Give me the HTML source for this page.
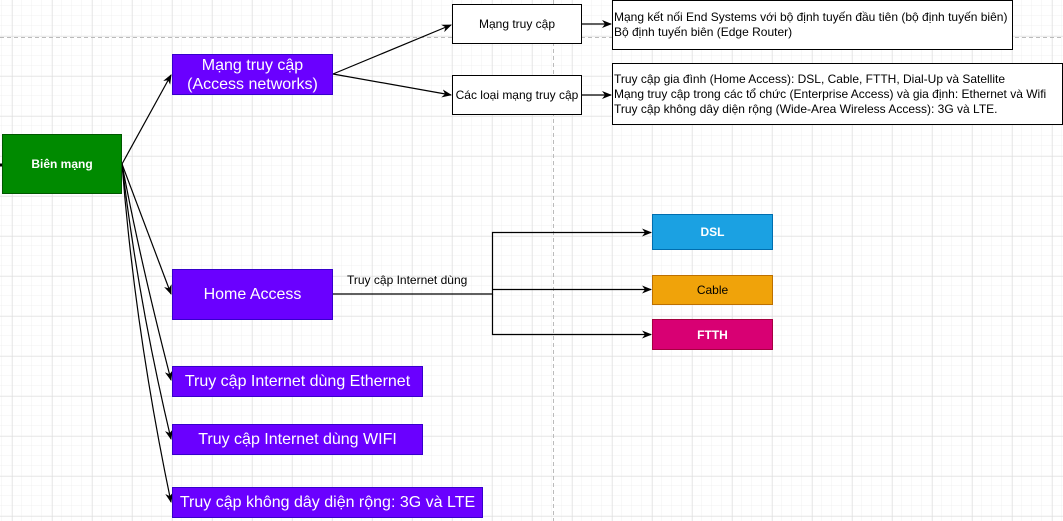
<!DOCTYPE html>
<html><head><meta charset="utf-8"><style>
body{margin:0;width:1063px;height:521px;overflow:hidden;background:#fff;position:relative;font-family:"Liberation Sans",Arial,sans-serif}
.b{position:absolute;box-sizing:border-box;display:flex;align-items:center;justify-content:center;text-align:center}
.p{background:#6a00ff;border:1px solid #3700cc;color:#fff;font-size:16px;line-height:19px}
.w{background:#fff;border:1px solid #000;color:#000;font-size:12px}
.t{position:absolute;box-sizing:border-box;border:1px solid #000;background:#fff;font-size:12px;line-height:15px;padding-left:1px;display:flex;flex-direction:column;justify-content:center}
.c{color:#fff;font-size:12px;font-weight:bold}
</style></head><body>
<svg width="1063" height="521" style="position:absolute;left:0;top:0">
<defs>
<pattern id="mn" width="10" height="10" patternUnits="userSpaceOnUse" x="2" y="6"><path d="M10 0V10M0 10H10" stroke="#f0f0f0" stroke-width="1" fill="none"/></pattern>
<pattern id="mj" width="40" height="40" patternUnits="userSpaceOnUse" x="12.5" y="36.5"><path d="M0 0V40M0 0H40" stroke="#dadada" stroke-width="1" fill="none"/></pattern>
<marker id="a" markerWidth="10" markerHeight="8" refX="9" refY="4" orient="auto" markerUnits="userSpaceOnUse"><path d="M0 0L10 4L0 8L3 4Z" fill="#000"/></marker>
</defs>
<rect width="1063" height="521" fill="url(#mn)"/>
<rect width="1063" height="521" fill="url(#mj)"/>
<line x1="0" y1="37.5" x2="1063" y2="37.5" stroke="#bbb" stroke-dasharray="4,3"/>
<line x1="553.5" y1="0" x2="553.5" y2="521" stroke="#bbb" stroke-dasharray="4,3"/>
<g stroke="#000" stroke-width="1.2" fill="none" marker-end="url(#a)">
<line x1="122" y1="164" x2="171" y2="75"/>
<line x1="122" y1="164" x2="171" y2="294"/>
<path d="M122 164 Q140 260 171 380"/>
<path d="M122 164 Q138 300 171 439"/>
<path d="M122 164 Q135 330 171 502"/>
<line x1="333" y1="74" x2="451" y2="25"/>
<line x1="333" y1="74" x2="451" y2="95"/>
<line x1="582" y1="24" x2="611" y2="24"/>
<line x1="582" y1="95" x2="611" y2="95"/>
<path d="M333 294H492.5V232.5H651"/>
<path d="M492.5 289.5H651"/>
<path d="M492.5 294V334.5H651"/>
</g>
<line x1="0" y1="165" x2="2" y2="165" stroke="#000" stroke-width="3"/>
</svg>
<div class="b c" style="left:2px;top:134px;width:120px;height:60px;background:#008a00;border:1px solid #005700">Biên mạng</div>
<div class="b p" style="left:172px;top:54px;width:161px;height:41px">Mạng truy cập<br>(Access networks)</div>
<div class="b w" style="left:452px;top:4px;width:130px;height:40px">Mạng truy cập</div>
<div class="b w" style="left:452px;top:75px;width:130px;height:40px">Các loại mạng truy cập</div>
<div class="t" style="left:612px;top:0;width:401px;height:50px">Mạng kết nối End Systems với bộ định tuyến đầu tiên (bộ định tuyến biên)<br>Bộ định tuyến biên (Edge Router)</div>
<div class="t" style="left:612px;top:63px;width:451px;height:62px">Truy cập gia đình (Home Access): DSL, Cable, FTTH, Dial-Up và Satellite<br>Mạng truy cập trong các tổ chức (Enterprise Access) và gia định: Ethernet và Wifi<br>Truy cập không dây diện rộng (Wide-Area Wireless Access): 3G và LTE.</div>
<div class="b p" style="left:172px;top:269px;width:161px;height:51px">Home Access</div>
<div class="b p" style="left:172px;top:366px;width:251px;height:31px">Truy cập Internet dùng Ethernet</div>
<div class="b p" style="left:172px;top:424px;width:251px;height:31px">Truy cập Internet dùng WIFI</div>
<div class="b p" style="left:172px;top:487px;width:311px;height:31px">Truy cập không dây diện rộng: 3G và LTE</div>
<div style="position:absolute;left:347px;top:273px;font-size:12px">Truy cập Internet dùng</div>
<div class="b c" style="left:652px;top:214px;width:121px;height:36px;background:#1ba1e2;border:1px solid #006eaf">DSL</div>
<div class="b" style="left:652px;top:275px;width:121px;height:30px;background:#f0a30a;border:1px solid #bd7000;font-size:12px;color:#000">Cable</div>
<div class="b c" style="left:652px;top:319px;width:121px;height:31px;background:#d80073;border:1px solid #a50040">FTTH</div>
</body></html>
